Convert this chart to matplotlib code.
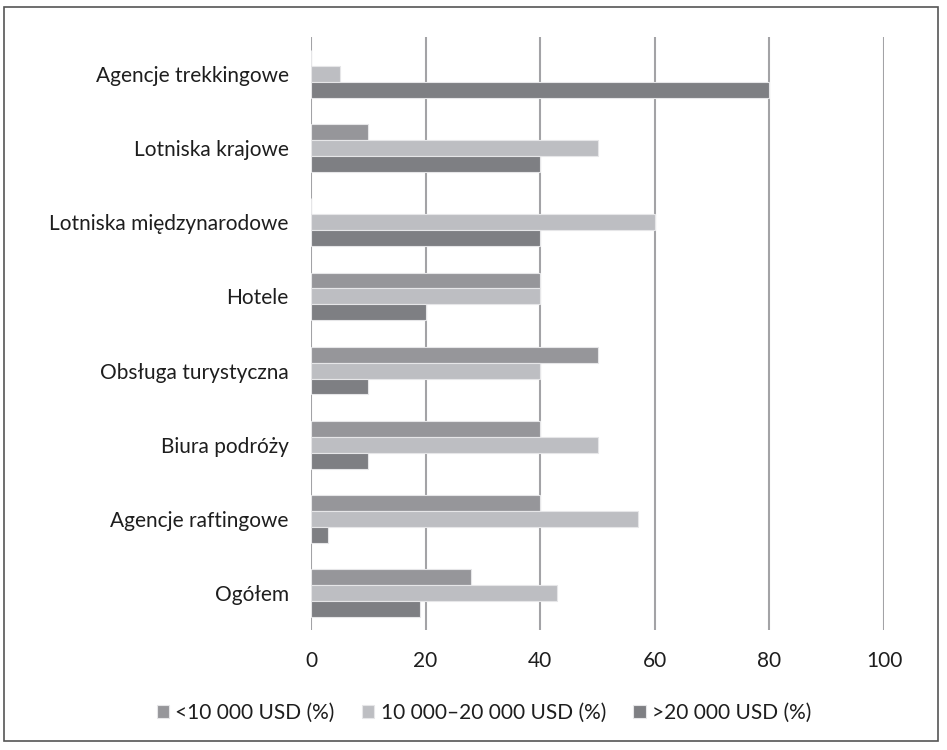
import numpy as np
import matplotlib.pyplot as plt
from matplotlib.patches import Rectangle

# dane
kategorie = ["Agencje trekkingowe", "Lotniska krajowe", "Lotniska międzynarodowe",
             "Hotele", "Obsługa turystyczna", "Biura podróży",
             "Agencje raftingowe", "Ogółem"]
ponizej_10 = [0, 10, 0, 40, 50, 40, 40, 28]
od_10_do_20 = [5, 50, 60, 40, 40, 50, 57, 43]
powyzej_20 = [80, 40, 40, 20, 10, 10, 3, 19]
serie = ["<10 000 USD (%)", "10 000\u201320 000 USD (%)", ">20 000 USD (%)"]
ticki = [0, 20, 40, 60, 80, 100]

kolory = ["#96969a", "#bdbec2", "#7e7f83"]

plt.rcParams['font.family'] = ['Lato', 'DejaVu Sans']
fs = 15

fig = plt.figure(figsize=(9.47, 7.5), dpi=100)
ax = fig.add_axes([311/947, 1 - 630/750, 573/947, 593/750])

y = np.arange(len(kategorie))
h = 0.215
for k, (vals, lab, c) in enumerate(zip([ponizej_10, od_10_do_20, powyzej_20], serie, kolory)):
    ax.barh(y + (k - 1) * h, vals, height=h, color=c, edgecolor="#e6e6e8",
            linewidth=0.8, label=lab, zorder=3)

ax.set_ylim(len(kategorie) - 0.5, -0.5)
ax.set_xlim(0, 100)
ax.set_yticks(y)
ax.set_yticklabels(kategorie, fontsize=fs, color="#1e1e1e")
ax.set_xticks(ticki)
ax.set_xticklabels([str(t) for t in ticki], fontsize=fs, color="#1e1e1e")
ax.tick_params(axis="y", length=0, pad=16)
ax.tick_params(axis="x", length=0, pad=15)
ax.grid(axis="x", color="#a3a3a6", linewidth=1.5, zorder=0)
for s in ax.spines.values():
    s.set_visible(False)

leg = fig.legend(loc="center", bbox_to_anchor=(484/947, 1 - 713/750), ncol=3,
                 frameon=False, fontsize=fs, handlelength=0.6, handleheight=0.6,
                 handletextpad=0.3, columnspacing=1.3)
for t in leg.get_texts():
    t.set_color("#1e1e1e")

# ramka
fig.patches.append(Rectangle((4/947, 1 - 741/750), 934/947, 734/750,
                             transform=fig.transFigure, fill=False,
                             edgecolor="#555555", linewidth=1.2))

fig.savefig("out.png", dpi=100)
